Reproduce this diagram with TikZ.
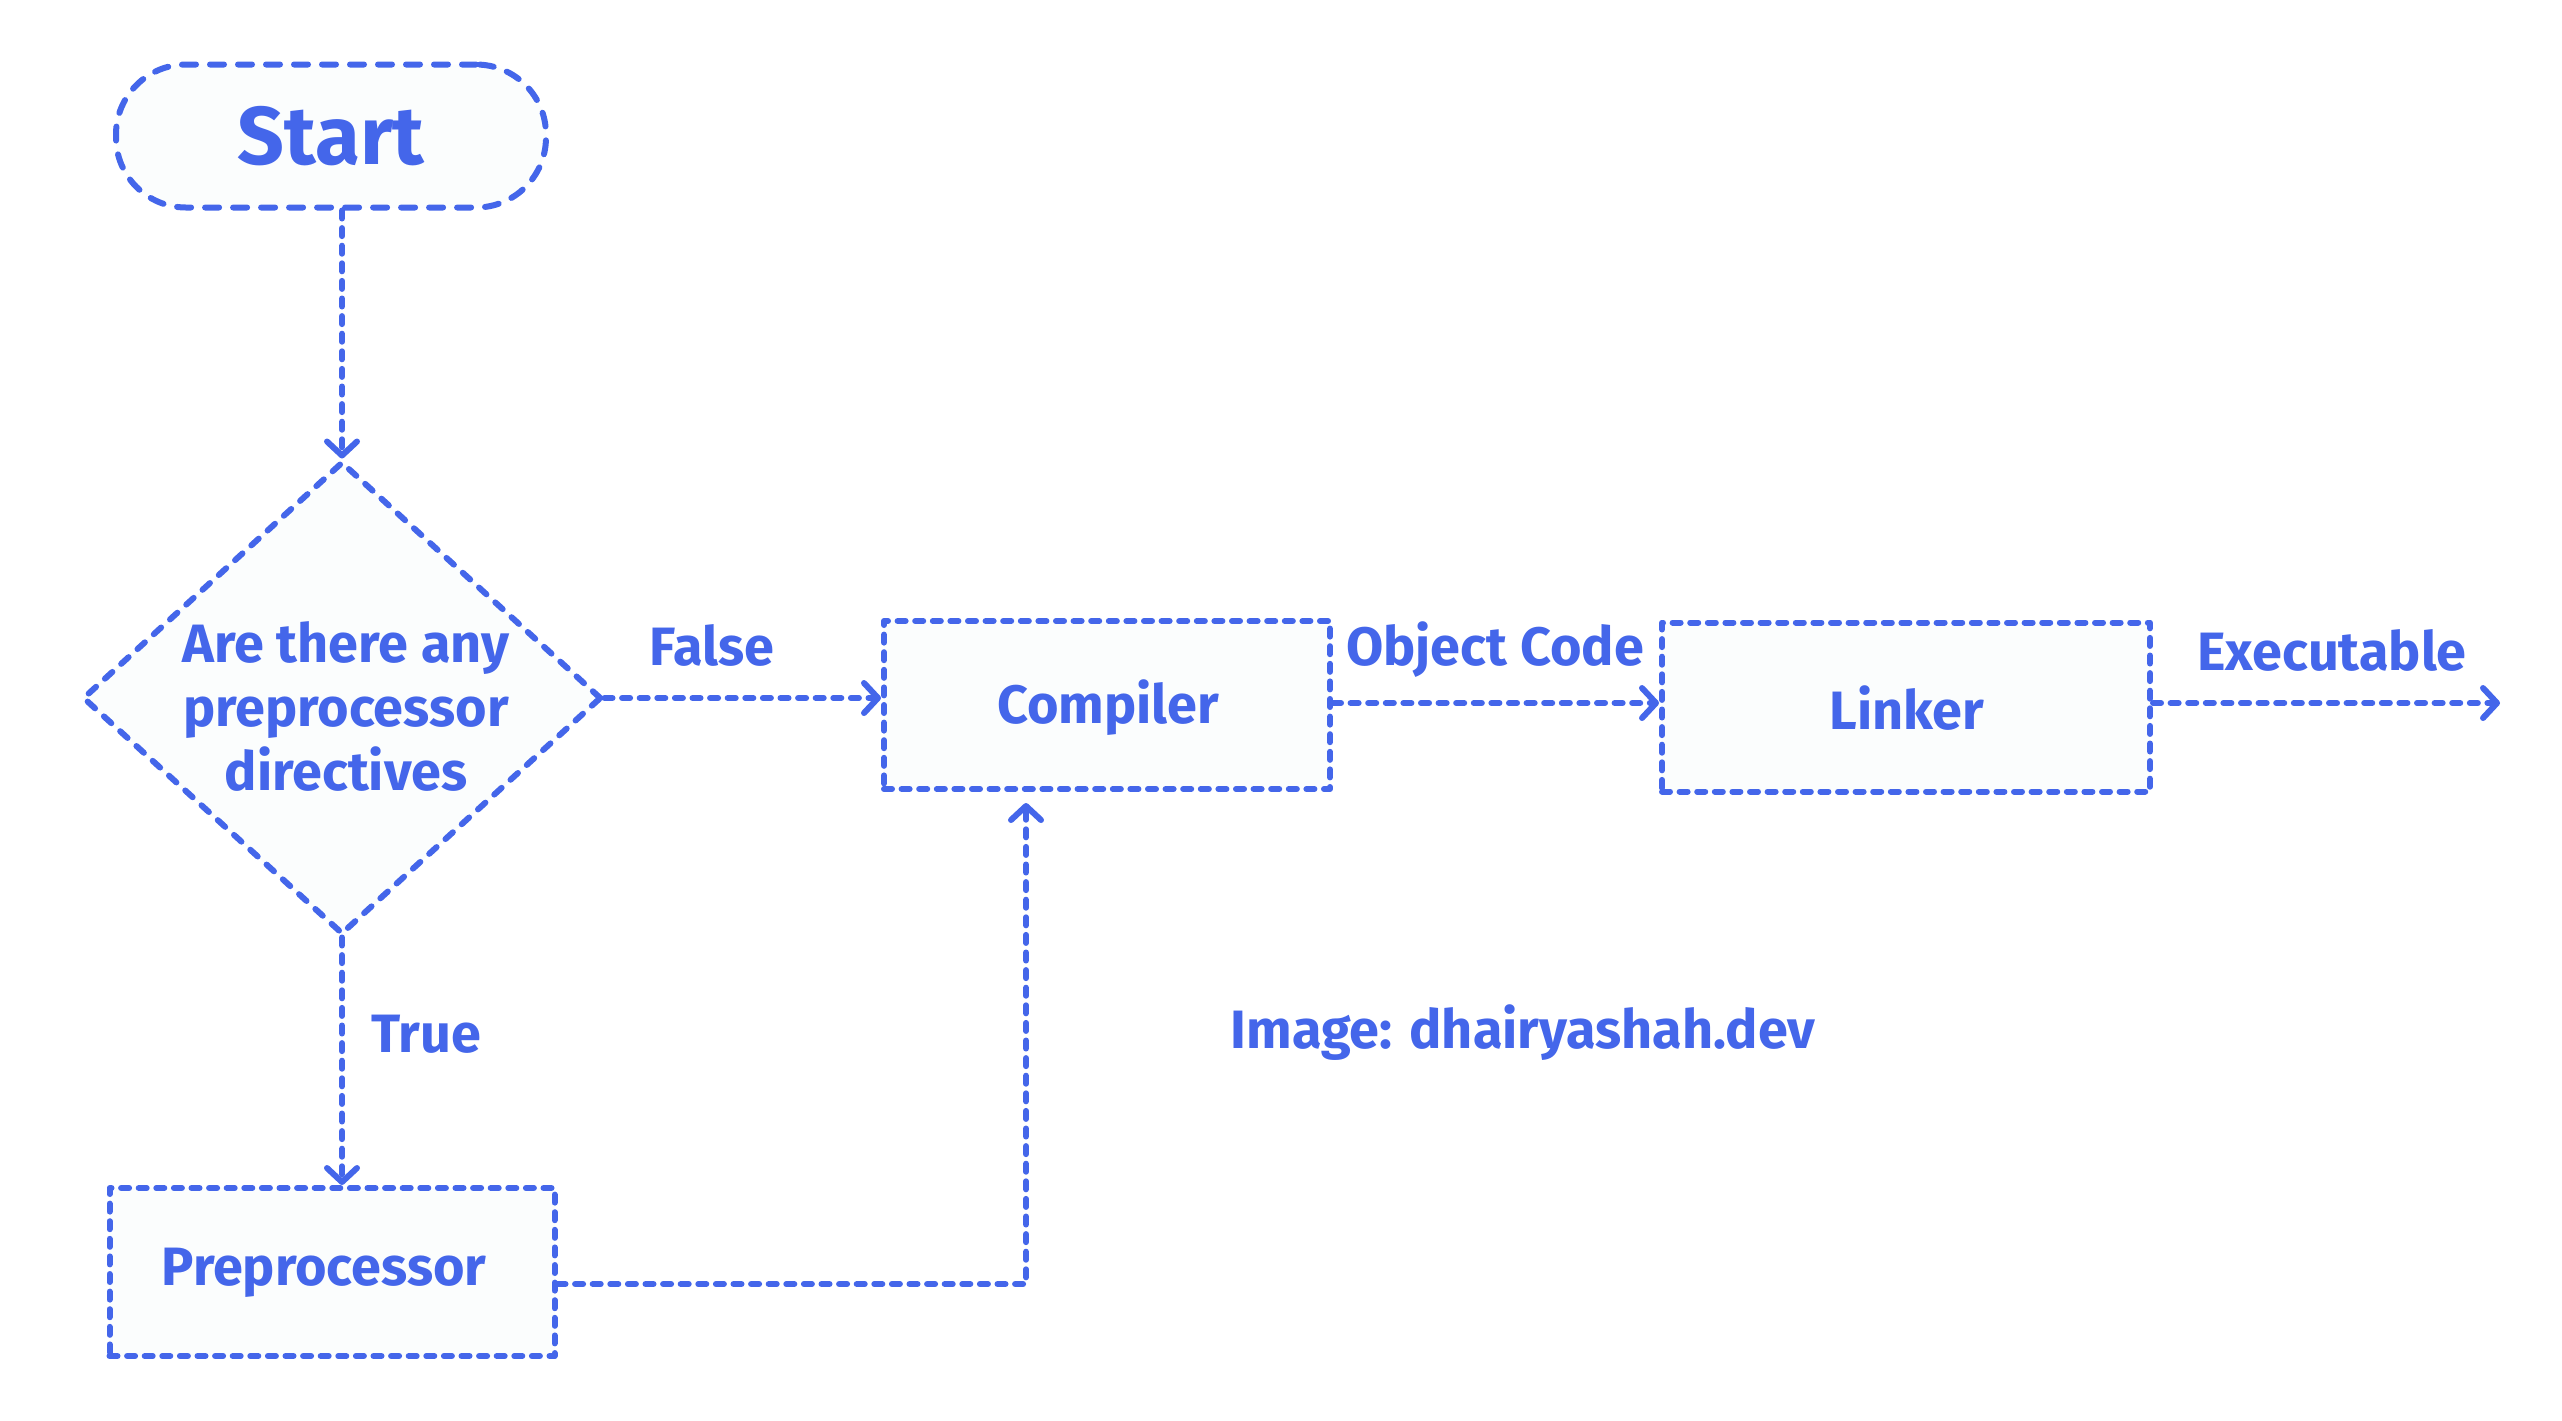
\documentclass[tikz,border=0pt]{standalone}
\usepackage{fontspec}
\setmainfont{Fira Sans}
\usetikzlibrary{arrows.meta,shapes.geometric}
\definecolor{ink}{HTML}{4466EA}
\definecolor{paper}{RGB}{251,253,253}
\tikzset{
  x=0.5pt,y=-0.5pt,
  every node/.style={font=\fontsize{27}{32}\selectfont\bfseries,text=ink},
  dsh/.style={draw=ink,line width=3pt,line cap=round,line join=round,dash pattern=on 4pt off 4.8pt},
  boxnode/.style={dsh,fill=paper,rectangle,inner sep=0pt},
  conn/.style={draw=ink,line width=3pt,line cap=round,line join=round,dash pattern=on 4pt off 4.8pt,
    -{Straight Barb[length=7pt,width=15pt,round]}},
  lbl/.style={inner sep=0pt,anchor=center}
}
\begin{document}
\begin{tikzpicture}
\useasboundingbox[fill=white] (0,0) rectangle (2562,1420);
% nodes
\node[dsh,fill=paper,rectangle,rounded corners=35pt,minimum width=215pt,minimum height=71.5pt,
  dash pattern=on 7pt off 7pt,font=\fontsize{41}{41}\selectfont\bfseries] (start) at (331,136) {Start};
\node[dsh,fill=paper,diamond,inner sep=0pt,minimum width=259.5pt,minimum height=236.5pt,
  dash pattern=on 5pt off 6pt] (dia) at (342,698) {};
\node[lbl,align=center] (dtext) at (346,706) {Are there any\\preprocessor\\directives};
\node[boxnode,minimum width=223pt,minimum height=84pt] (comp) at (1107,705) {};
\node[lbl] (comptext) at (1108,708) {Compiler};
\node[boxnode,minimum width=244pt,minimum height=84.5pt] (link) at (1906,707) {};
\node[lbl] (linktext) at (1907,708) {Linker};
\node[boxnode,minimum width=222.5pt,minimum height=84pt] (prep) at (332,1272) {};
\node[lbl] (preptext) at (324,1273) {Preprocessor};
\coordinate (out) at (2500,703);
\coordinate (bend) at (1026,1284);
% labels
\node[lbl] (lfalse) at (712,645) {False};
\node[lbl] (lobj) at (1495,650) {Object Code};
\node[lbl] (lexe) at (2332,650) {Executable};
\node[lbl] (ltrue) at (426,1034) {True};
\node[lbl] (credit) at (1523,1033) {Image: dhairyashah.dev};
% connectors
\draw[conn] (dia.north |- start.south) -- (dia.north);
\draw[conn] (dia.east) -- (dia.east -| comp.west);
\draw[conn] (comp.east |- 0,703) -- (link.west |- 0,703);
\draw[conn] (link.east |- out) -- (out);
\draw[conn] (dia.south) -- (dia.south |- prep.north);
\draw[conn,shorten >=5.5pt] (prep.east |- bend) -- (bend) -- (bend |- comp.south);
\end{tikzpicture}
\end{document}
